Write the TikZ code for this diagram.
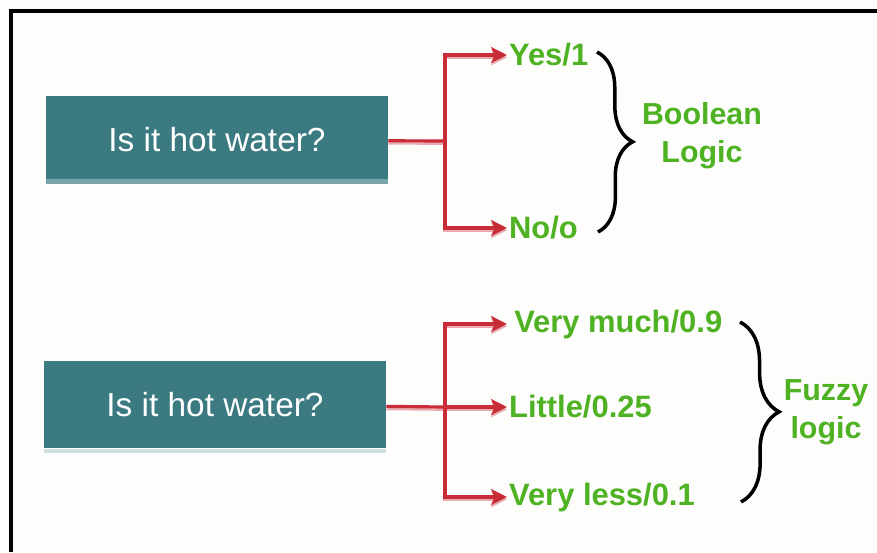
\documentclass[tikz,border=0pt]{standalone}
\usepackage{fontspec}
\setmainfont{Liberation Sans}
\usetikzlibrary{arrows.meta,decorations.pathreplacing}

\definecolor{boxteal}{RGB}{58,122,128}
\definecolor{stripteal}{RGB}{120,165,169}
\definecolor{arrowred}{RGB}{200,44,54}
\definecolor{answergreen}{RGB}{78,178,34}
\definecolor{paper}{RGB}{253,253,251}

\begin{document}
\begin{tikzpicture}[x=0.02cm,y=-0.02cm,>={Stealth[length=9pt,width=9pt,inset=2pt]},
  question/.style={fill=boxteal,text=white,minimum width=6.84cm,minimum height=1.76cm,inner sep=0pt,font=\fontsize{19}{23}\selectfont},
  answer/.style={text=answergreen,font=\fontsize{17.6}{20}\selectfont\bfseries,inner sep=1pt,anchor=west},
  logic/.style={text=answergreen,font=\fontsize{17.3}{21.5}\selectfont\bfseries,align=center,inner sep=0pt},
  branch/.style={draw=arrowred,line width=1.8pt,
    preaction={draw=arrowred!40,line width=1.8pt,transform canvas={yshift=-1.3pt}}},
  curly/.style={draw=black,line width=2pt,decorate,decoration={brace,amplitude=#1}}]

\fill[paper] (0,0) rectangle (877,552);
\useasboundingbox (0,0) rectangle (877,552);
\draw[line width=1.8pt] (11,552) -- (11,11) -- (877,11);

% the two questions
\node[question] (q1) at (217,140) {Is it hot water?};
\node[question] (q2) at (215,404.5) {Is it hot water?};
\fill[stripteal] ([yshift=3.2pt]q1.south west) rectangle (q1.south east);
\fill[stripteal!35] (q2.south west) rectangle ([yshift=-2.5pt]q2.south east);

% answers
\node[answer] (yes)    at (507,55)  {Yes/1};
\node[answer] (no)     at (507,228) {No/o};
\node[answer] (much)   at (507,324) {\,Very much/0.9};
\node[answer] (little) at (507,407) {Little/0.25};
\node[answer] (less)   at (507,497) {Very less/0.1};

\coordinate (j1) at (445,141);
\coordinate (j2) at (445,407);

\draw[branch] (q1) -- (j1);
\draw[branch,->] (j1) |- (yes);
\draw[branch,->] (j1) |- (no);

\draw[branch] (q2) -- (j2);
\draw[branch,->] (j2) |- (much);
\draw[branch,->] (j2) -- (little);
\draw[branch,->] (j2) |- (less);

% braces
\coordinate (booltop) at (597,52);
\coordinate (boolbot) at (598,232);
\coordinate (fuzzytop) at (740,322);
\coordinate (fuzzybot) at (741,502);
\draw[curly=20pt] (booltop) -- (boolbot);
\draw[curly=22pt] (fuzzytop) -- (fuzzybot);

\node[logic] (boolean) at (702,136) {Boolean\\Logic};
\node[logic] (fuzzy)   at (826,412) {Fuzzy\\logic};

\end{tikzpicture}
\end{document}
